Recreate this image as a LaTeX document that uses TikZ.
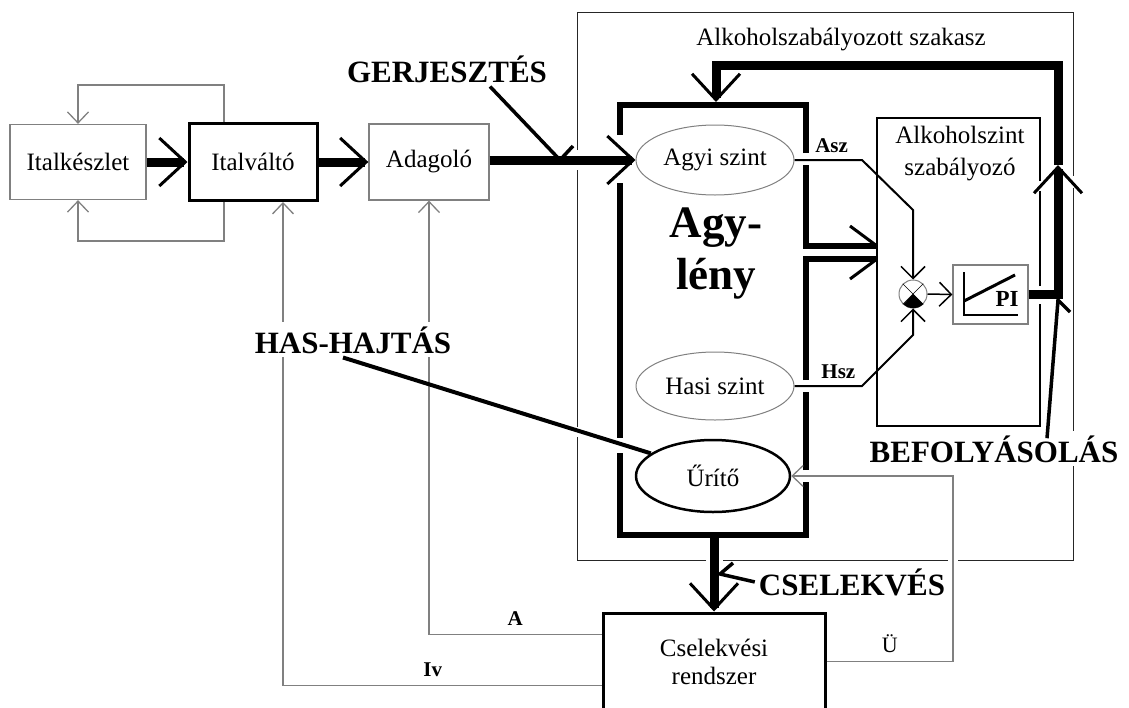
\documentclass[tikz,border=0pt]{standalone}
\usepackage{fontspec}
\setmainfont{Liberation Serif}
\usetikzlibrary{arrows.meta,shapes.geometric}
\definecolor{sgray}{gray}{0.5}
\tikzset{
  txt/.style={font=\fontsize{25}{32}\selectfont},
  lbl/.style={font=\fontsize{21}{24}\selectfont\bfseries,inner sep=2pt},
  biglbl/.style={font=\fontsize{31}{34}\selectfont\bfseries,fill=white,inner sep=4pt,anchor=base},
  graybox/.style={draw=sgray,line width=1.3pt,txt,inner sep=0pt},
  blackbox/.style={draw,line width=3pt,txt,inner sep=0pt},
  oval/.style={ellipse,draw=sgray,line width=1pt,txt,inner sep=0pt},
  frame/.style={draw=black!85,line width=1pt},
  agyline/.style={line width=6.5pt},
  bigline/.style={line width=9pt},
  bigtip/.style={-{Straight Barb[length=26pt,width=48pt,line width=3pt]}},
  sig/.style={draw=sgray,line width=1.3pt},
  sigtip/.style={-{Straight Barb[length=11pt,width=21pt,line width=1.3pt]}},
  sline/.style={line width=2pt},
  mtip/.style={-{Straight Barb[length=12pt,width=24pt,line width=1.5pt]}},
  knob/.style={line width=3.5pt}
}
\begin{document}
\begin{tikzpicture}[x=1pt,y=-1pt]
\useasboundingbox (0,0) rectangle (1129,707);

\draw[frame] (577,150) -- (577,12) -- (1073,12) -- (1073,176);
\draw[frame] (1073,188) -- (1073,560) -- (958,560);
\draw[frame] (948,560) -- (723,560);
\draw[frame] (706,560) -- (577,560) -- (577,437);
\draw[frame] (577,427) -- (577,170);
\node[txt] (szakasz) at (841,40) {Alkoholszabályozott szakasz};

\draw[agyline] (877,246) -- (806,246) -- (806,165);
\draw[agyline] (806,153) -- (806,105) -- (620,105) -- (620,135);
\draw[agyline] (620,183) -- (620,438);
\draw[agyline] (620,453) -- (620,535) -- (806,535) -- (806,482);
\draw[agyline] (806,470) -- (806,392);
\draw[agyline] (806,380) -- (806,259) -- (877,259);
\draw[line width=3pt] (850,226) -- (877,246);
\draw[line width=3pt] (850,279) -- (877,259);

\node[graybox,minimum width=136pt,minimum height=75pt] (keszlet) at (78,162) {Italkészlet};
\node[blackbox,minimum width=128pt,minimum height=77pt] (valto) at (253,162) {Italváltó};
\node[graybox,minimum width=120pt,minimum height=76pt] (adagolo) at (429,162) {Adagoló};
\node[oval,minimum width=158pt,minimum height=70pt] (agyi) at (715,160) {Agyi szint};
\node[oval,minimum width=158pt,minimum height=68pt] (hasi) at (715,386) {Hasi szint};
\node[oval,draw=black,line width=2.5pt,minimum width=154pt,minimum height=72pt] (urito) at (713,476) {Űrítő};
\node[font=\fontsize{45}{52}\selectfont\bfseries,align=center] (agy) at (716,253) {Agy-\\lény};
\node[minimum width=163pt,minimum height=308pt] (szab) at (958.5,272) {};
\draw[line width=2pt] (1040,181) -- (1040,118) -- (877,118) -- (877,426) -- (1040,426) -- (1040,304);
\draw[line width=2pt] (1040,286) -- (1040,191);
\node[txt,align=center] (szabtxt) at (960,154) {Alkoholszint\\szabályozó};
\node[circle,draw=sgray,line width=1pt,minimum size=28pt,inner sep=0pt] (sum) at (913,294) {};
\node[draw=sgray,line width=1.3pt,minimum width=75pt,minimum height=59pt] (pi) at (990.5,294.5) {};
\node[blackbox,font=\fontsize{25}{28}\selectfont,align=center,minimum width=222pt,minimum height=97pt] (csel) at (714,661.5) {Cselekvési\\rendszer};

\draw (sum.45) -- (sum.-135);
\draw (sum.135) -- (sum.-45);
\fill (sum.center) -- (sum.-45) arc[start angle=-45,end angle=-135,radius=14pt] -- cycle;
\draw[line width=2pt] (964,272) -- (964,315) -- (1018,315);
\draw[line width=3pt] (964,301) -- (1015,275);
\node[lbl,font=\fontsize{23}{26}\selectfont\bfseries] (pitxt) at (1007,299) {PI};

\draw[bigline,bigtip] (keszlet) -- (valto);
\draw[bigline,bigtip] (valto) -- (adagolo);
\draw[bigline,bigtip] (adagolo.east |- agyi) -- (agyi.west);
\draw[sig,sigtip] ([xshift=-29pt]valto.north) -- ++(0,-37) -| (keszlet.north);
\draw[sig,sigtip] ([xshift=-29pt]valto.south) -- ++(0,39) -| (keszlet.south);

\coordinate (asz1) at (862,160);
\coordinate (asz2) at (913,210);
\coordinate (hsz1) at (862,386);
\coordinate (hsz2) at (913,335);
\draw[sline,mtip] (agyi.east) -- node[lbl,above=4pt,pos=0.55]{Asz} (asz1) -- (asz2) -- (sum.north);
\draw[sline,mtip] (hasi.east) -- node[lbl,above=4pt,pos=0.65]{Hsz} (hsz1) -- (hsz2) -- (sum.south);
\draw[line width=1.5pt,mtip] (sum.east) -- (pi.west);

\coordinate (fbc) at (1058,294.5);
\coordinate (fbup) at (1058,165);
\coordinate (fbtop) at (1058,65);
\coordinate (agyin) at (716,102);
\draw[bigline,bigtip] (pi.east) -- (fbc) -- (fbup);
\draw[bigline,bigtip] (fbup) -- (fbtop) -| (agyin);
\coordinate (agyout) at (714,538);
\draw[bigline,bigtip] (agyout) -- (csel.north);

\coordinate (aout) at ([yshift=-23pt]csel.north west);
\coordinate (ivout) at ([yshift=-74pt]csel.north west);
\coordinate (ivin) at ([xshift=30pt]valto.south);
\coordinate (ux) at (953,476);
\draw[sig,sigtip] (aout) -- node[lbl,above=6pt]{A} (aout -| adagolo.south) -- (adagolo.south);
\draw[sig,sigtip] (ivout) -- node[lbl,above=6pt,pos=0.53]{Iv} (ivout -| ivin) -- (ivin);
\draw[sig,sigtip] (csel.east) -- node[lbl,font=\fontsize{22}{24}\selectfont,above=6pt]{Ü} (csel.east -| ux) -- (ux) -- (urito.east);

\node[biglbl] (gerj) at (447,82) {GERJESZTÉS};
\node[biglbl] (hash) at (353,353) {HAS-HAJTÁS};
\node[biglbl] (befoly) at (994,462) {BEFOLYÁSOLÁS};
\node[biglbl] (cselk) at (852,595) {CSELEKVÉS};

\coordinate (gj) at (560,160);
\coordinate (bft) at (1058,300);
\coordinate (csk) at (720,574);
\draw[knob] ([xshift=43pt]gerj.south) -- (gj) -- ++(13,-14);
\draw[line width=4pt] ([xshift=-10pt]hash.south) -- (urito.160);
\draw[knob] ([xshift=53pt,yshift=-7pt]befoly.north) -- (bft) -- ++(12,12);
\draw[knob] (cselk.west) -- (csk) -- ++(13,-11);
\end{tikzpicture}
\end{document}
